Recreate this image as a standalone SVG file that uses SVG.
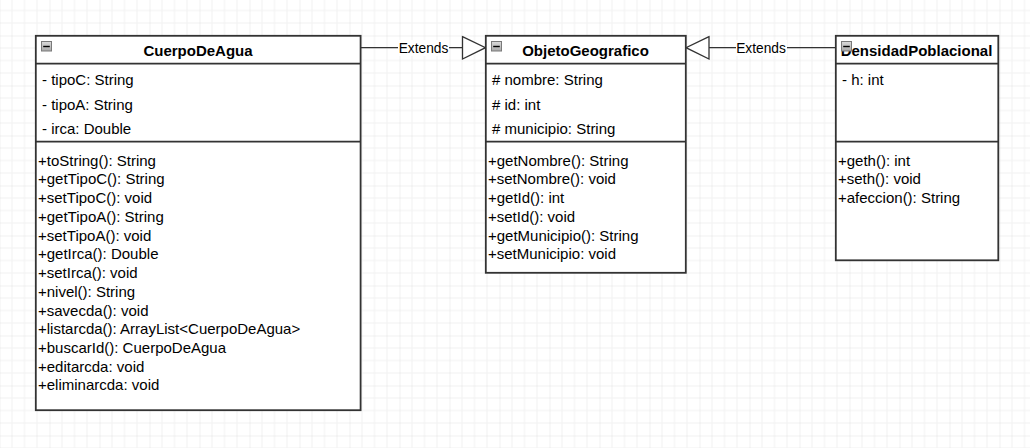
<svg xmlns="http://www.w3.org/2000/svg" width="1030" height="448" viewBox="0 0 1030 448">
<style>
.box{fill:#fff;stroke:#333;stroke-width:1.8}
.sep{stroke:#333;stroke-width:1.8}
.t{font-family:"Liberation Sans",Arial,sans-serif;font-size:15px;fill:#000}
.h{font-family:"Liberation Sans",Arial,sans-serif;font-size:15px;font-weight:bold;fill:#000;text-anchor:middle}
.lbl{font-family:"Liberation Sans",Arial,sans-serif;font-size:13.75px;fill:#000;text-anchor:middle}
.edge{stroke:#333;stroke-width:1.3;fill:none}
.tri{fill:#fff;stroke:#333;stroke-width:1.3}
.ico{fill:url(#icg);stroke:#7a7a7a;stroke-width:1}
.dash{stroke:#000;stroke-width:1.4}
</style>
<defs>
<linearGradient id="icg" x1="0" y1="0" x2="0" y2="1">
<stop offset="0" stop-color="#dcdcdc"/>
<stop offset="1" stop-color="#a9a9a9"/>
</linearGradient>
<pattern id="grid" width="50" height="50" patternUnits="userSpaceOnUse" x="-0.5" y="-14.5">
<path d="M12.5 0V50M25 0V50M37.5 0V50M0 12.5H50M0 25H50M0 37.5H50" stroke="#f1f1f1" stroke-width="1" fill="none"/>
<path d="M0 0V50M0 0H50" stroke="#e2e2e2" stroke-width="1" fill="none"/>
</pattern>
</defs>
<rect width="1030" height="448" fill="#fff"/>
<rect width="1030" height="448" fill="url(#grid)"/>

<g id="connectors">
<g id="e1">
<path class="edge" d="M360.5 47.7H462.5"/>
<rect x="398" y="40" width="51" height="16" fill="#fff"/>
<text class="lbl" x="423.5" y="52.7">Extends</text>
<path class="tri" d="M462.5 36.7L485.5 47.7L462.5 59Z"/>
</g>
<g id="e2">
<path class="edge" d="M835.5 47.7H709"/>
<rect x="736" y="40" width="51" height="16" fill="#fff"/>
<text class="lbl" x="761" y="52.7">Extends</text>
<path class="tri" d="M709 36.7L686 47.7L709 59Z"/>
</g>
</g>

<g id="CuerpoDeAgua">
<rect class="box" x="35.8" y="35.8" width="324.8" height="374.4"/>
<line class="sep" x1="35.8" y1="63.7" x2="360.6" y2="63.7"/>
<line class="sep" x1="35.8" y1="141.7" x2="360.6" y2="141.7"/>
<text class="h" x="198" y="56">CuerpoDeAgua</text>
<rect class="ico" x="41.5" y="41.5" width="10" height="9.5"/>
<line class="dash" x1="43.2" y1="46.5" x2="49.8" y2="46.5"/>
<text class="t" x="42" y="84.8">- tipoC: String</text>
<text class="t" x="42" y="109.6">- tipoA: String</text>
<text class="t" x="42" y="134.4">- irca: Double</text>
<text class="t" x="38" y="165.7">+toString(): String</text>
<text class="t" x="38" y="184.4">+getTipoC(): String</text>
<text class="t" x="38" y="203.1">+setTipoC(): void</text>
<text class="t" x="38" y="221.9">+getTipoA(): String</text>
<text class="t" x="38" y="240.6">+setTipoA(): void</text>
<text class="t" x="38" y="259.3">+getIrca(): Double</text>
<text class="t" x="38" y="278">+setIrca(): void</text>
<text class="t" x="38" y="296.7">+nivel(): String</text>
<text class="t" x="38" y="315.5">+savecda(): void</text>
<text class="t" x="38" y="334.2">+listarcda(): ArrayList&lt;CuerpoDeAgua&gt;</text>
<text class="t" x="38" y="352.9">+buscarId(): CuerpoDeAgua</text>
<text class="t" x="38" y="371.6">+editarcda: void</text>
<text class="t" x="38" y="390.3">+eliminarcda: void</text>
</g>

<g id="ObjetoGeografico">
<rect class="box" x="485.8" y="35.8" width="200" height="237"/>
<line class="sep" x1="485.8" y1="63.7" x2="685.8" y2="63.7"/>
<line class="sep" x1="485.8" y1="141.7" x2="685.8" y2="141.7"/>
<text class="h" x="585.5" y="56">ObjetoGeografico</text>
<rect class="ico" x="491.5" y="41.5" width="10" height="9.5"/>
<line class="dash" x1="493.2" y1="46.5" x2="499.8" y2="46.5"/>
<text class="t" x="492" y="84.8"># nombre: String</text>
<text class="t" x="492" y="109.6"># id: int</text>
<text class="t" x="492" y="134.4"># municipio: String</text>
<text class="t" x="488" y="165.7">+getNombre(): String</text>
<text class="t" x="488" y="184.4">+setNombre(): void</text>
<text class="t" x="488" y="203.1">+getId(): int</text>
<text class="t" x="488" y="221.9">+setId(): void</text>
<text class="t" x="488" y="240.6">+getMunicipio(): String</text>
<text class="t" x="488" y="259.3">+setMunicipio: void</text>
</g>

<g id="DensidadPoblacional">
<rect class="box" x="835.8" y="35.8" width="162.5" height="224.5"/>
<line class="sep" x1="835.8" y1="63.7" x2="998.3" y2="63.7"/>
<line class="sep" x1="835.8" y1="141.7" x2="998.3" y2="141.7"/>
<text class="h" x="916.5" y="56">DensidadPoblacional</text>
<rect class="ico" x="841.5" y="41.5" width="10" height="9.5"/>
<line class="dash" x1="843.2" y1="46.5" x2="849.8" y2="46.5"/>
<text class="t" x="842" y="84.8">- h: int</text>
<text class="t" x="838" y="165.7">+geth(): int</text>
<text class="t" x="838" y="184.4">+seth(): void</text>
<text class="t" x="838" y="203.1">+afeccion(): String</text>
</g>
</svg>
